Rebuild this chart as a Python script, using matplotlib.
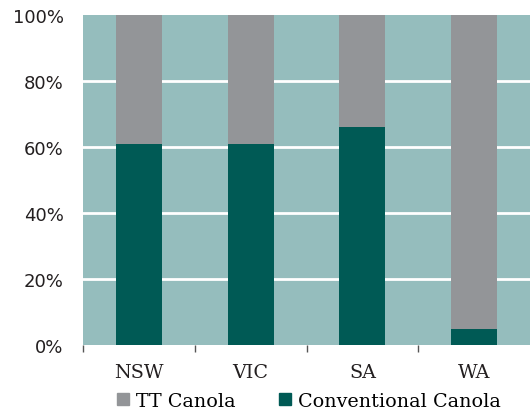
import matplotlib
matplotlib.use("Agg")
import matplotlib.pyplot as plt
from matplotlib.patches import Patch
import numpy as np

states = ["NSW", "VIC", "SA", "WA"]
conventional = [61, 61, 66, 5]
tt = [100 - v for v in conventional]
y_ticks = [0, 20, 40, 60, 80, 100]

BG = "#95bdbd"
GREY = "#939598"
DARK = "#005a55"
TEXT = "#231f20"

fig = plt.figure(figsize=(5.30, 4.14), dpi=100)
ax = fig.add_axes([83 / 530, 68 / 414, 447 / 530, 330 / 414])
ax.set_facecolor(BG)

x = np.arange(len(states))
w = 0.41
ax.bar(x, conventional, width=w, color=DARK, zorder=3)
ax.bar(x, tt, bottom=conventional, width=w, color=GREY, zorder=3)

ax.set_xlim(-0.5, len(states) - 0.5)
ax.set_ylim(0, 100)

for v in y_ticks[1:-1]:
    ax.axhline(v, color="white", lw=2.0, zorder=1)

ax.set_yticks(y_ticks)
ax.set_yticklabels([f"{v}%" for v in y_ticks], fontsize=13,
                   family="DejaVu Sans", color=TEXT)
ax.tick_params(axis="y", length=0, pad=14)

# category labels centred under bars, ticks between categories
ax.set_xticks(x)
ax.set_xticklabels(states, family="DejaVu Serif", fontsize=13.8,
                   color=TEXT)
ax.tick_params(axis="x", length=0, pad=13)
ax.set_xticks(np.arange(len(states)) - 0.5, minor=True)
ax.tick_params(axis="x", which="minor", length=5, width=1, color="#555555")

for s in ax.spines.values():
    s.set_visible(False)

handles = [Patch(color=GREY, label="TT Canola"),
           Patch(color=DARK, label="Conventional Canola")]
fig.legend(handles=handles, loc="center", bbox_to_anchor=(309 / 530, 1 - 402 / 414),
           ncol=2, frameon=False, handlelength=0.6, handleheight=0.6,
           handletextpad=0.35, columnspacing=2.3,
           prop={"family": "DejaVu Serif", "size": 13.8})

fig.savefig("out.png", dpi=100)
